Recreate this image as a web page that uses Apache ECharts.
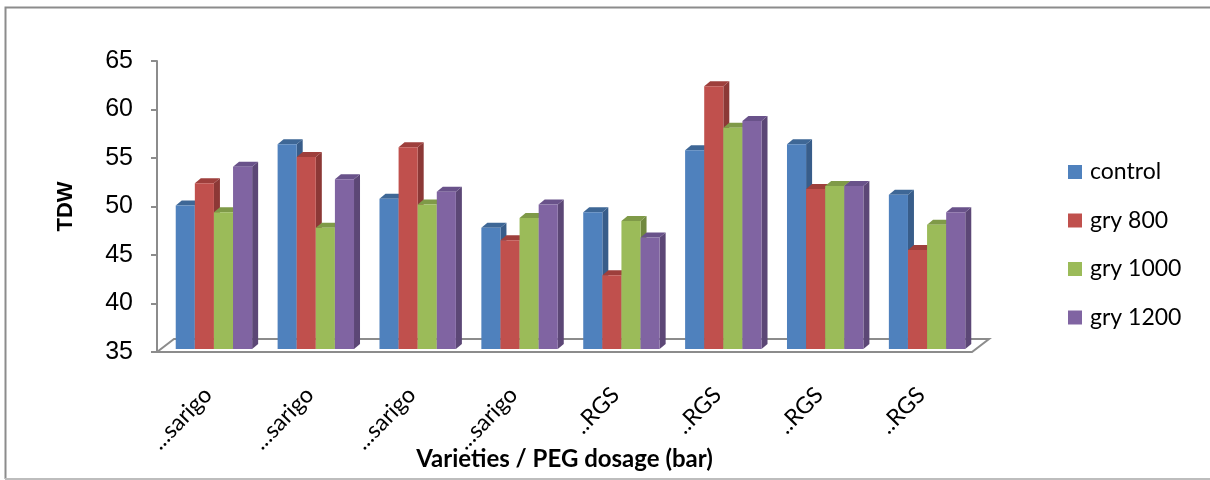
<!DOCTYPE html>
<html>
<head>
<meta charset="utf-8">
<script src="https://cdn.jsdelivr.net/npm/echarts@6/dist/echarts.min.js"></script>
<style>html,body{margin:0;padding:0;background:#fff;}#chart{width:1210px;height:480px;}</style>
</head>
<body>
<div id="chart"></div>
<script>
const categories = ['...sarigo', '...sarigo', '...sarigo', '...sarigo', '..RGS', '..RGS', '..RGS', '..RGS'];
const seriesNames = ['control', 'gry 800', 'gry 1000', 'gry 1200'];
const control = [49.8, 56.1, 50.5, 47.5, 49.1, 55.5, 56.1, 50.9];
const gry800 = [52.1, 54.8, 55.8, 46.2, 42.6, 62.1, 51.5, 45.2];
const gry1000 = [49.1, 47.5, 49.9, 48.5, 48.2, 57.8, 51.8, 47.8];
const gry1200 = [53.8, 52.5, 51.2, 49.9, 46.5, 58.5, 51.8, 49.1];
const yTicks = [35, 40, 45, 50, 55, 60, 65];

const seriesValues = [control, gry800, gry1000, gry1200];
const frontColors = ['#4F81BD', '#C0504D', '#9BBB59', '#8064A2'];
const sideColors = ['#385D8A', '#8C3836', '#71893F', '#5C4776'];
const topColors = ['#3E6796', '#9E3F3C', '#7F9A48', '#69528A'];
const yMin = yTicks[0], yMax = yTicks[yTicks.length - 1];

const SHIFT_X = 6, SHIFT_Y = -3, DX = 6, DY = -5;

function makeRender(si) {
  return function (params, api) {
    const cat = api.value(0), val = api.value(1);
    const band = api.size([1, 0])[0];
    const groupW = band * 0.75;
    const bw = groupW / 4;
    const c = api.coord([cat, val]);
    const b = api.coord([cat, yMin]);
    const x0 = c[0] - groupW / 2 + si * bw + SHIFT_X;
    const yTop = c[1] + SHIFT_Y;
    const yBot = b[1] + SHIFT_Y;
    return {
      type: 'group',
      children: [
        { type: 'polygon', shape: { points: [[x0 + bw, yTop], [x0 + bw + DX, yTop + DY], [x0 + bw + DX, yBot + DY], [x0 + bw, yBot]] }, style: { fill: sideColors[si] } },
        { type: 'polygon', shape: { points: [[x0, yTop], [x0 + DX, yTop + DY], [x0 + bw + DX, yTop + DY], [x0 + bw, yTop]] }, style: { fill: topColors[si] } },
        { type: 'rect', shape: { x: x0, y: yTop, width: bw, height: yBot - yTop }, style: { fill: frontColors[si] } }
      ]
    };
  };
}

function renderFloor(params, api) {
  const cs = params.coordSys;
  const x1 = cs.x, x2 = cs.x + cs.width, yF = cs.y + cs.height;
  const fx = 17, fy = -13;
  const st = { stroke: '#8C8C8C', lineWidth: 2, fill: null };
  return {
    type: 'group',
    children: [
      { type: 'polyline', shape: { points: [[x1, yF], [x1 + fx, yF + fy], [x2 + fx, yF + fy], [x2, yF], [x1, yF]] }, style: st }
    ]
  };
}

const series = [{
  type: 'custom',
  name: '_floor',
  renderItem: renderFloor,
  data: [[0, yMin]],
  silent: true,
  z: 1
}];
seriesValues.forEach((vals, si) => {
  series.push({
    type: 'custom',
    name: seriesNames[si],
    renderItem: makeRender(si),
    itemStyle: { color: frontColors[si] },
    data: vals.map((v, i) => [i, v]),
    z: 2
  });
});

const chart = echarts.init(document.getElementById('chart'), null, { renderer: 'canvas' });
chart.setOption({
  animation: false,
  backgroundColor: '#ffffff',
  graphic: [{
    type: 'polyline',
    shape: { points: [[5.5, 479], [5.5, 7.5], [1210, 7.5]] },
    style: { stroke: '#8C8C8C', lineWidth: 2, fill: null },
    silent: true
  }, {
    type: 'line',
    shape: { x1: 5, y1: 479, x2: 1210, y2: 479 },
    style: { stroke: '#BDBDBD', lineWidth: 2 },
    silent: true
  }],
  grid: { left: 157, right: 238, top: 61, bottom: 128, containLabel: false, outerBoundsMode: 'none' },
  legend: {
    data: seriesNames,
    orient: 'vertical',
    left: 1068,
    top: 160,
    padding: 0,
    icon: 'rect',
    itemWidth: 14,
    itemHeight: 14,
    itemGap: 24.5,
    textStyle: { fontFamily: 'Lato', fontSize: 23, color: '#000', lineHeight: 24, padding: [0, 0, 0, 3] }
  },
  xAxis: {
    type: 'category',
    data: categories,
    axisLine: { show: false },
    axisTick: { show: false },
    splitLine: { show: false },
    axisLabel: { rotate: 46, margin: 39, fontFamily: 'Lato', fontSize: 23, color: '#000', interval: 0 },
    name: 'Varieties / PEG dosage (bar)',
    nameLocation: 'middle',
    nameGap: 95,
    nameMoveOverlap: false,
    nameTextStyle: { fontFamily: 'Lato', fontWeight: 'bold', fontSize: 24, color: '#000' }
  },
  yAxis: {
    type: 'value',
    min: yMin,
    max: yMax,
    interval: 5,
    axisLine: { show: true, lineStyle: { color: '#8C8C8C', width: 2 } },
    axisTick: { show: true, length: 6, lineStyle: { color: '#8C8C8C', width: 2 } },
    splitLine: { show: false },
    axisLabel: { margin: 24, fontFamily: 'Liberation Sans', fontSize: 25, color: '#000' },
    name: 'TDW',
    nameLocation: 'middle',
    nameGap: 80,
    nameMoveOverlap: false,
    nameTextStyle: { fontFamily: 'Liberation Sans', fontWeight: 'bold', fontSize: 22, color: '#000' }
  },
  series: series
});
</script>
</body>
</html>
